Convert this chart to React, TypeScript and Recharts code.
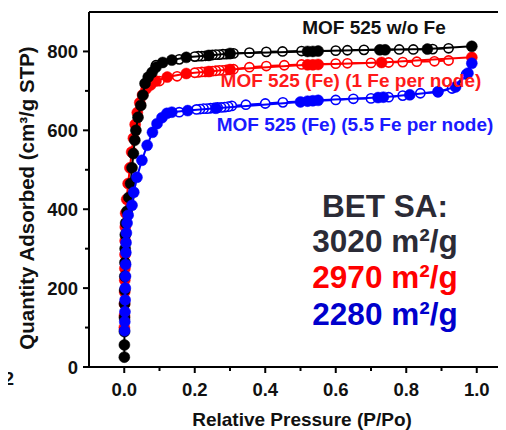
import React from 'react';
import { ScatterChart, Scatter, XAxis, YAxis, ReferenceLine } from 'recharts';

// ---- data: relative pressure (P/Po) and quantity adsorbed (cm3/g STP) ----
const blackAdsP = [0.0002, 0.0004, 0.0006, 0.0008, 0.001, 0.0013, 0.0016, 0.002, 0.0025, 0.003, 0.004, 0.008, 0.013, 0.018, 0.022, 0.026, 0.03, 0.033, 0.039, 0.047, 0.053, 0.059, 0.068, 0.079, 0.09, 0.109, 0.135, 0.176, 0.24, 0.3, 0.52, 0.535, 0.55, 0.725, 0.74, 0.86, 0.986];
const blackAdsV = [25, 56, 90, 125, 160, 195, 230, 265, 300, 335, 365, 395, 430, 465, 505, 541, 575, 600, 633, 663, 689, 719, 735, 747, 760, 772, 778, 785, 790, 795, 800, 800, 801, 804, 804, 806, 813];
const blackDesP = [0.92, 0.875, 0.82, 0.78, 0.68, 0.633, 0.6, 0.503, 0.449, 0.403, 0.355, 0.31, 0.3, 0.29, 0.28, 0.27, 0.26, 0.25, 0.24, 0.23, 0.22, 0.21, 0.2, 0.156, 0.09];
const blackDesV = [808, 806, 805, 805, 804, 803, 802, 801, 800, 799, 797, 795, 794, 793, 793, 792, 792, 791, 790, 789, 788, 788, 787, 780, 765];

const redAdsP = [0.0003, 0.0006, 0.0009, 0.0012, 0.0015, 0.0018, 0.0022, 0.0026, 0.003, 0.004, 0.007, 0.011, 0.016, 0.021, 0.026, 0.031, 0.037, 0.044, 0.052, 0.062, 0.075, 0.09, 0.122, 0.176, 0.24, 0.3, 0.52, 0.535, 0.55, 0.73, 0.986];
const redAdsV = [100, 130, 160, 190, 220, 250, 285, 320, 355, 390, 425, 465, 505, 545, 580, 615, 645, 670, 690, 705, 715, 725, 735, 744, 749, 754, 766, 766, 767, 772, 785];
const redDesP = [0.92, 0.88, 0.83, 0.79, 0.75, 0.7, 0.633, 0.6, 0.503, 0.454, 0.403, 0.355, 0.31, 0.3, 0.29, 0.28, 0.27, 0.26, 0.25, 0.24, 0.23, 0.22, 0.21, 0.2, 0.15, 0.1];
const redDesV = [777, 775, 774, 773, 772, 771, 770, 769, 767, 765, 763, 760, 755, 754, 753, 752, 752, 751, 750, 749, 748, 748, 747, 746, 737, 725];

const blueAdsP = [0.001, 0.0015, 0.002, 0.0025, 0.003, 0.0035, 0.004, 0.0045, 0.005, 0.006, 0.008, 0.011, 0.022, 0.027, 0.036, 0.05, 0.065, 0.08, 0.093, 0.107, 0.121, 0.135, 0.18, 0.26, 0.5, 0.52, 0.535, 0.55, 0.72, 0.735, 0.81, 0.89, 0.94, 0.975, 0.986];
const blueAdsV = [92, 115, 140, 170, 200, 230, 260, 290, 315, 340, 365, 385, 410, 443, 481, 524, 562, 595, 617, 632, 643, 646, 650, 656, 672, 674, 675, 676, 683, 684, 690, 698, 710, 745, 770];
const blueDesP = [0.97, 0.93, 0.89, 0.84, 0.79, 0.75, 0.7, 0.65, 0.6, 0.45, 0.4, 0.345, 0.305, 0.295, 0.285, 0.275, 0.265, 0.255, 0.245, 0.235, 0.225, 0.215, 0.205, 0.156];
const blueDesV = [742, 706, 697, 694, 688, 684, 681, 680, 677, 671, 668, 665, 662, 660, 659, 658, 658, 657, 656, 655, 655, 654, 653, 646];

const xTicks = [0, 0.1, 0.2, 0.3, 0.4, 0.5, 0.6, 0.7, 0.8, 0.9, 1.0];
const yTicks = [0, 100, 200, 300, 400, 500, 600, 700, 800];

const seriesLabels = ['MOF 525 w/o Fe', 'MOF 525 (Fe) (1 Fe per node)', 'MOF 525 (Fe) (5.5 Fe per node)'];
const betTitle = 'BET SA:';
const betValues = ['3020 m²/g', '2970 m²/g', '2280 m²/g'];
const xTitle = 'Relative Pressure (P/Po)';
const yTitle = 'Quantity Adsorbed (cm³/g STP)';
const neighbourTick = '12';

const zip = (p: number[], v: number[]) => p.map((x, i) => ({ p: x, v: v[i] }));

const FONT = '"Liberation Sans", Arial, Helvetica, sans-serif';
const BLACK = '#000000';
const RED = '#ff0000';
const BLUE = '#0000ff';

const filled = (color: string) => (props: any) => (
  <circle cx={props.cx} cy={props.cy} r={5.5} fill={color} stroke={color} strokeWidth={0.5} />
);
const open = (color: string) => (props: any) => (
  <circle cx={props.cx} cy={props.cy} r={4.6} fill="#ffffff" stroke={color} strokeWidth={1.6} />
);

const YTick = (props: any) => {
  const { x, y, payload } = props;
  const major = payload.value % 200 === 0;
  return (
    <g>
      <line x1={x - (major ? 6 : 4)} x2={x} y1={y} y2={y} stroke="#000" strokeWidth={2} />
      {major && (
        <text x={x - 11} y={y + 6.5} textAnchor="end" fontFamily={FONT} fontWeight="bold" fontSize={18.5} fill="#111">
          {payload.value}
        </text>
      )}
    </g>
  );
};

const XTick = (props: any) => {
  const { x, y, payload, index } = props;
  const major = index % 2 === 0;
  return (
    <g>
      <line x1={x} x2={x} y1={y} y2={y + (major ? 6 : 4)} stroke="#000" strokeWidth={2} />
      {major && (
        <text x={x} y={y + 29} textAnchor="middle" fontFamily={FONT} fontWeight="bold" fontSize={18.5} fill="#111">
          {Number(payload.value).toFixed(1)}
        </text>
      )}
    </g>
  );
};

export default function App() {
  return (
    <div style={{ position: 'relative', width: 506, height: 430, overflow: 'hidden', margin: '-8px 0 0 -8px', background: '#fff' }}>
      <ScatterChart width={530} height={430} margin={{ top: 12, right: 18, bottom: 33, left: 29 }}>
        <XAxis
          type="number"
          dataKey="p"
          domain={[-0.1, 1.1]}
          ticks={xTicks}
          interval={0}
          tick={<XTick />}
          tickLine={false}
          tickSize={0}
          tickMargin={0}
          height={30}
          axisLine={{ stroke: '#000', strokeWidth: 2 }}
          allowDataOverflow
        />
        <YAxis
          type="number"
          dataKey="v"
          domain={[0, 900]}
          ticks={yTicks}
          interval={0}
          tick={<YTick />}
          tickLine={false}
          tickSize={0}
          tickMargin={0}
          width={60}
          axisLine={{ stroke: '#000', strokeWidth: 2 }}
          allowDataOverflow
        />
        <ReferenceLine y={900} stroke="#000" strokeWidth={2} ifOverflow="visible" />

        <Scatter data={zip(redDesP, redDesV)} line={{ stroke: RED, strokeWidth: 2 }} shape={open(RED)} isAnimationActive={false} />
        <Scatter data={zip(redAdsP, redAdsV)} line={{ stroke: RED, strokeWidth: 2 }} shape={filled(RED)} isAnimationActive={false} />
        <Scatter data={zip(blackDesP, blackDesV)} line={{ stroke: BLACK, strokeWidth: 2 }} shape={open(BLACK)} isAnimationActive={false} />
        <Scatter data={zip(blackAdsP, blackAdsV)} line={{ stroke: BLACK, strokeWidth: 2 }} shape={filled(BLACK)} isAnimationActive={false} />
        <Scatter data={zip(blueDesP, blueDesV)} line={{ stroke: BLUE, strokeWidth: 2 }} shape={open(BLUE)} isAnimationActive={false} />
        <Scatter data={zip(blueAdsP, blueAdsV)} line={{ stroke: BLUE, strokeWidth: 2 }} shape={filled(BLUE)} isAnimationActive={false} />
      </ScatterChart>

      <svg width={506} height={430} style={{ position: 'absolute', left: 0, top: 0, pointerEvents: 'none', zIndex: 2 }}>
        {/* tick label of the neighbouring (cropped) panel */}
        <text x={14} y={385} textAnchor="end" fontFamily={FONT} fontWeight="bold" fontSize={18.5} fill="#111">{neighbourTick}</text>

        {/* axis titles */}
        <text x={302} y={426} textAnchor="middle" fontFamily={FONT} fontWeight="bold" fontSize={19} fill="#111">{xTitle}</text>
        <text x={34} y={198} transform="rotate(-90 34 198)" textAnchor="middle" fontFamily={FONT} fontWeight="bold" fontSize={20.5} fill="#111">{yTitle}</text>

        {/* series labels */}
        <text x={374} y={34} textAnchor="middle" fontFamily={FONT} fontWeight="bold" fontSize={19} fill="#111">{seriesLabels[0]}</text>
        <text x={351} y={87} textAnchor="middle" fontFamily={FONT} fontWeight="bold" fontSize={19} fill="#ff1a1a">{seriesLabels[1]}</text>
        <text x={355} y={131} textAnchor="middle" fontFamily={FONT} fontWeight="bold" fontSize={19} fill="#1a1aff">{seriesLabels[2]}</text>

        {/* BET surface areas */}
        <text x={385} y={217} textAnchor="middle" fontFamily={FONT} fontWeight="bold" fontSize={31.5} fill="#2b2b36">{betTitle}</text>
        <text x={385} y={252} textAnchor="middle" fontFamily={FONT} fontWeight="bold" fontSize={31.5} fill="#2b2b36">{betValues[0]}</text>
        <text x={385} y={288} textAnchor="middle" fontFamily={FONT} fontWeight="bold" fontSize={31.5} fill="#ff0000">{betValues[1]}</text>
        <text x={385} y={325} textAnchor="middle" fontFamily={FONT} fontWeight="bold" fontSize={31.5} fill="#0000cc">{betValues[2]}</text>
      </svg>
    </div>
  );
}
